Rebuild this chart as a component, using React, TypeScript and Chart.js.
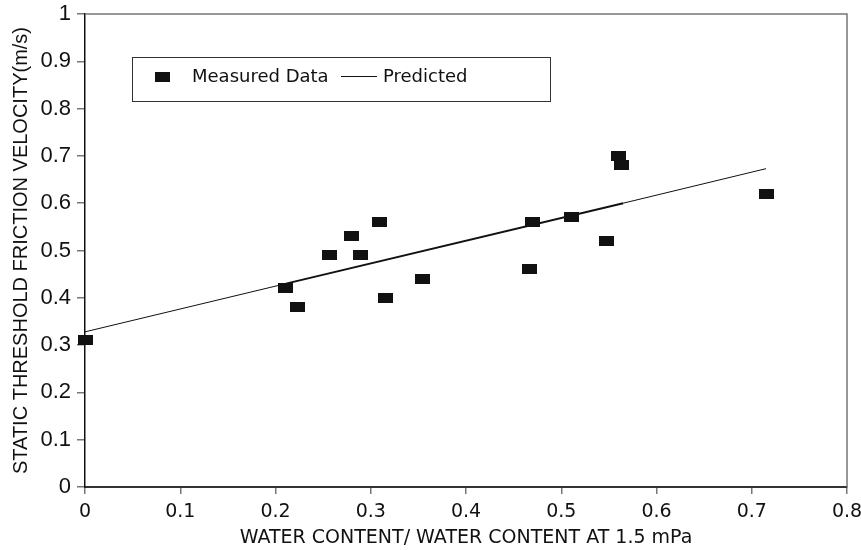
import React, { useEffect, useRef } from "react";
import { Chart, registerables } from "chart.js";

Chart.register(...registerables);

// Measured data
const measuredX = [0, 0.211, 0.223, 0.257, 0.280, 0.289, 0.309, 0.315, 0.354, 0.467, 0.470, 0.511, 0.548, 0.560, 0.563, 0.715];
const measuredY = [0.31, 0.42, 0.38, 0.49, 0.53, 0.49, 0.56, 0.40, 0.44, 0.46, 0.56, 0.57, 0.52, 0.70, 0.68, 0.62];

// Predicted line
const predictedX = [0, 0.211, 0.565, 0.715];
const predictedY = [0.328, 0.43, 0.60, 0.673];

const xTicks = [0, 0.1, 0.2, 0.3, 0.4, 0.5, 0.6, 0.7, 0.8];
const yTicks = [0, 0.1, 0.2, 0.3, 0.4, 0.5, 0.6, 0.7, 0.8, 0.9, 1];

const xTitle = "WATER CONTENT/ WATER CONTENT AT 1.5 mPa";
const yTitle = "STATIC THRESHOLD FRICTION VELOCITY(m/s)";
const legendMeasured = "Measured Data";
const legendPredicted = "Predicted";

const ARIAL = "'Liberation Sans', Arial, sans-serif";
const STROKE = "'DejaVu Sans', sans-serif";

function makeMarker(): HTMLCanvasElement {
  const c = document.createElement("canvas");
  c.width = 15;
  c.height = 10;
  const g = c.getContext("2d")!;
  g.fillStyle = "#111";
  g.fillRect(0, 0, 15, 10);
  return c;
}

export default function App() {
  const ref = useRef<HTMLCanvasElement>(null);

  useEffect(() => {
    document.body.style.margin = "0";
    const marker = makeMarker();
    const thickEnd = predictedX.length - 2;

    const framePlugin = {
      id: "frameAndLegend",
      afterDraw(chart: any) {
        const { ctx, chartArea } = chart;
        ctx.save();
        // top and right frame
        ctx.strokeStyle = "#777";
        ctx.lineWidth = 1.5;
        ctx.beginPath();
        ctx.moveTo(chartArea.left, chartArea.top);
        ctx.lineTo(chartArea.right, chartArea.top);
        ctx.lineTo(chartArea.right, chartArea.bottom);
        ctx.stroke();
        // legend box
        ctx.strokeStyle = "#333";
        ctx.lineWidth = 1;
        ctx.strokeRect(132.5, 57.5, 418, 44);
        ctx.drawImage(marker, 155, 72);
        ctx.fillStyle = "#111";
        ctx.font = `18px ${STROKE}`;
        ctx.textBaseline = "middle";
        ctx.textAlign = "left";
        ctx.fillText(legendMeasured, 192, 77);
        ctx.strokeStyle = "#111";
        ctx.beginPath();
        ctx.moveTo(341, 76.5);
        ctx.lineTo(377, 76.5);
        ctx.stroke();
        ctx.fillText(legendPredicted, 383, 77);
        ctx.restore();
      },
    };

    const chart = new Chart(ref.current!, {
      type: "scatter",
      data: {
        datasets: [
          {
            label: legendMeasured,
            data: measuredX.map((x, i) => ({ x, y: measuredY[i] })),
            pointStyle: marker as any,
            pointRadius: 7,
            backgroundColor: "#111",
            borderColor: "#111",
            showLine: false,
            clip: false as any,
            order: 1,
          },
          {
            label: legendPredicted,
            type: "line",
            data: predictedX.map((x, i) => ({ x, y: predictedY[i] })),
            borderColor: "#111",
            borderWidth: 1,
            pointRadius: 0,
            showLine: true,
            fill: false,
            segment: {
              borderWidth: (c: any) => (c.p0DataIndex >= 1 && c.p1DataIndex <= thickEnd ? 2 : 1),
            },
            order: 2,
          } as any,
        ],
      },
      options: {
        animation: false,
        responsive: false,
        maintainAspectRatio: false,
        layout: { padding: { top: 14, right: 14, left: 0, bottom: 0 } },
        plugins: {
          legend: { display: false },
          tooltip: { enabled: false },
        },
        scales: {
          x: {
            type: "linear",
            min: 0,
            max: 0.8,
            afterBuildTicks: (s: any) => {
              s.ticks = xTicks.map((v) => ({ value: v }));
            },
            afterFit: (s: any) => {
              s.height = 63;
              s.paddingLeft = 0;
              s.paddingRight = 0;
            },
            ticks: {
              color: "#111",
              font: { family: STROKE, size: 19 },
              padding: 7,
              maxRotation: 0,
              callback: (v: any) => String(v),
            },
            grid: {
              display: true,
              drawOnChartArea: false,
              drawTicks: true,
              tickLength: 7,
              color: "#777",
              lineWidth: 1.5,
            },
            border: { display: true, color: "#333", width: 2 },
            title: {
              display: true,
              text: xTitle,
              color: "#111",
              font: { family: STROKE, size: 19 },
              padding: { top: 0, bottom: 1 },
            },
          },
          y: {
            type: "linear",
            min: 0,
            max: 1,
            afterBuildTicks: (s: any) => {
              s.ticks = yTicks.map((v) => ({ value: v }));
            },
            afterFit: (s: any) => {
              s.width = 85;
              s.paddingTop = 0;
              s.paddingBottom = 0;
            },
            ticks: {
              color: "#111",
              font: { family: ARIAL, size: 22 },
              padding: 6,
              callback: (v: any) => String(v),
            },
            grid: {
              display: true,
              drawOnChartArea: false,
              drawTicks: true,
              tickLength: 8,
              color: "#777",
              lineWidth: 1.5,
            },
            border: { display: true, color: "#111", width: 1.5 },
            title: {
              display: true,
              text: yTitle,
              color: "#111",
              font: { family: ARIAL, size: 20 },
              padding: { top: 9, bottom: 0 },
            },
          },
        },
      },
      plugins: [framePlugin],
    });
    return () => chart.destroy();
  }, []);

  return <canvas ref={ref} width={861} height={550} style={{ display: "block" }} />;
}
